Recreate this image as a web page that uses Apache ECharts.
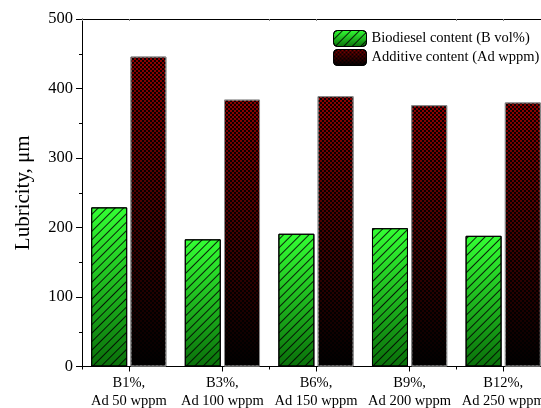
<!DOCTYPE html>
<html>
<head>
<meta charset="utf-8">
<script src="https://cdn.jsdelivr.net/npm/echarts@6/dist/echarts.min.js"></script>
<style>html,body{margin:0;padding:0;background:#fff}#c{width:541px;height:408px}</style>
</head>
<body>
<div id="c"></div>
<script>
var blends = ['B1%', 'B3%', 'B6%', 'B9%', 'B12%'];
var additives = ['Ad 50 wppm', 'Ad 100 wppm', 'Ad 150 wppm', 'Ad 200 wppm', 'Ad 250 wppm'];
var biodieselValues = [229, 183, 191, 199, 188];
var additiveValues = [446, 384, 389, 376, 380];
var yTicks = [0, 100, 200, 300, 400, 500];
var seriesNames = ['Biodiesel content (B vol%)', 'Additive content (Ad wppm)'];

var categories = blends.map(function (b, i) { return b + ',\n' + additives[i]; });
var FONT = 'Liberation Serif';

var greenFill = new echarts.graphic.LinearGradient(0, 0, 0, 1, [
  { offset: 0, color: '#33ff33' },
  { offset: 1, color: '#0a700a' }
]);
var redFill = new echarts.graphic.LinearGradient(0, 0, 0, 1, [
  { offset: 0, color: '#900000' },
  { offset: 1, color: '#000000' }
]);
var hatch = {
  symbol: 'rect', symbolSize: 1, color: 'rgba(0,0,0,0.85)',
  dashArrayX: [1, 0], dashArrayY: [1, 4.2], rotation: -Math.PI / 4
};
var checker = {
  symbol: 'rect', symbolSize: 1, color: 'rgba(0,0,0,0.92)',
  dashArrayX: [[2, 2], [0, 2, 2, 0]], dashArrayY: [2, 0], rotation: 0
};

var chart = echarts.init(document.getElementById('c'), null, { renderer: 'canvas' });
chart.setOption({
  animation: false,
  backgroundColor: '#fff',
  grid: { left: 82, width: 468, top: 19, height: 347.5, containLabel: false, outerBoundsMode: 'none' },
  legend: {
    orient: 'vertical', left: 328, top: 25,
    itemWidth: 33, itemHeight: 16, itemGap: 2,
    textStyle: { fontFamily: FONT, fontSize: 14.5, color: '#000' },
    itemStyle: { borderColor: '#000', borderWidth: 1 },
    data: seriesNames
  },
  xAxis: [
    {
      type: 'category', data: categories, position: 'bottom',
      axisLine: { show: true, lineStyle: { color: '#000', width: 1 } },
      axisTick: { show: true, alignWithLabel: true, length: 5, lineStyle: { color: '#000' } },
      axisLabel: { fontFamily: FONT, fontSize: 14.5, color: '#000', lineHeight: 18, margin: 8, interval: 0 }
    },
    {
      type: 'category', data: categories, position: 'bottom',
      axisLine: { show: false },
      axisTick: { show: true, length: 3, lineStyle: { color: '#000' } },
      axisLabel: { show: false }
    },
    {
      type: 'category', data: categories, position: 'top',
      axisLine: { show: true, lineStyle: { color: '#000', width: 1 } },
      axisTick: { show: true, inside: true, alignWithLabel: true, length: 2, lineStyle: { color: '#888' } },
      axisLabel: { show: false }
    },
    {
      type: 'category', data: categories, position: 'top',
      axisLine: { show: false },
      axisTick: { show: true, inside: true, length: 2, lineStyle: { color: '#888' } },
      axisLabel: { show: false }
    }
  ],
  yAxis: {
    type: 'value', min: yTicks[0], max: yTicks[yTicks.length - 1], interval: 100,
    name: 'Lubricity, μm', nameLocation: 'middle', nameGap: 48,
    nameTextStyle: { fontFamily: FONT, fontSize: 21, color: '#000' },
    axisLine: { show: true, lineStyle: { color: '#000', width: 1 } },
    axisTick: { show: true, length: 6, lineStyle: { color: '#000' } },
    minorTick: { show: true, splitNumber: 2, length: 3, lineStyle: { color: '#000' } },
    splitLine: { show: false },
    axisLabel: { fontFamily: FONT, fontSize: 16.5, color: '#000', margin: 9 }
  },
  series: [
    {
      name: seriesNames[0], type: 'bar', xAxisIndex: 0, data: biodieselValues,
      barWidth: 36, barGap: '9%',
      itemStyle: { color: greenFill, borderColor: '#000', borderWidth: 1, decal: hatch }
    },
    {
      name: seriesNames[1], type: 'bar', xAxisIndex: 0, data: additiveValues,
      barWidth: 36, barGap: '9%',
      itemStyle: { color: redFill, borderColor: '#8a8a8a', borderWidth: 1, decal: checker }
    }
  ]
});
</script>
</body>
</html>
